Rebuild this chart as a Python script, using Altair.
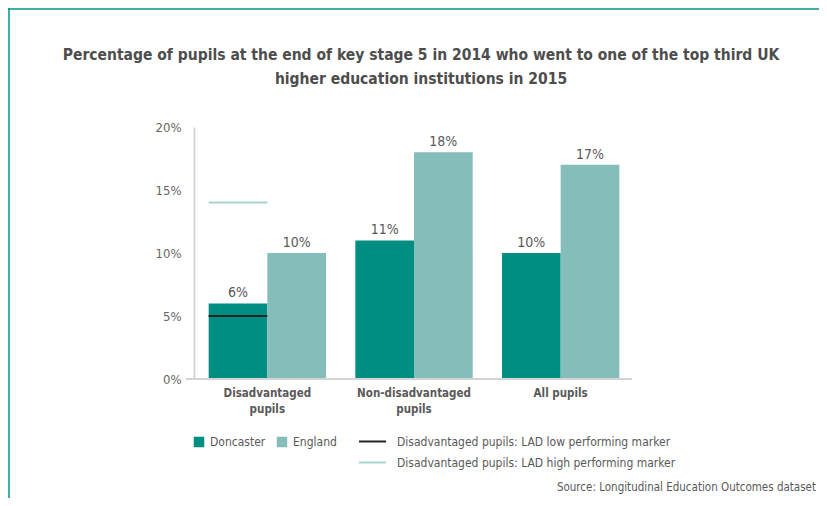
import altair as alt
import pandas as pd

groups = ["Disadvantaged pupils", "Non-disadvantaged pupils", "All pupils"]
series = ["Doncaster", "England"]
doncaster = [6, 11, 10]
england = [10, 18, 17]
marker_names = ["Disadvantaged pupils: LAD low performing marker",
                "Disadvantaged pupils: LAD high performing marker"]
marker_values = [5, 14]
marker_group = "Disadvantaged pupils"
title_lines = ["Percentage of pupils at the end of key stage 5 in 2014 who went to one of the top third UK",
               "higher education institutions in 2015"]
source_text = "Source: Longitudinal Education Outcomes dataset"

FONT = "DejaVu Sans Condensed"
TXT = "#595959"

rows = []
for g, d, e in zip(groups, doncaster, england):
    rows.append({"group": g, "series": "Doncaster", "value": d})
    rows.append({"group": g, "series": "England", "value": e})
bars_df = pd.DataFrame(rows)
markers_df = pd.DataFrame({"group": [marker_group] * 2, "series": ["Doncaster"] * 2,
                           "marker": marker_names, "value": marker_values})

W, H = 440, 252
x_enc = alt.X("group:N", sort=groups, title=None,
              scale=alt.Scale(paddingInner=0.2, paddingOuter=0.1),
              axis=alt.Axis(labelAngle=0, labelFont=FONT, labelFontWeight="bold", labelFontSize=11.5,
                            labelColor=TXT, ticks=False, domain=False, labelPadding=8,
                            labelLineHeight=16,
                            labelExpr="datum.value == 'All pupils' ? 'All pupils' : split(datum.value, ' ')"))
xoff = alt.XOffset("series:N", sort=series, scale=alt.Scale(domain=series, paddingInner=0, paddingOuter=0))
y_enc = alt.Y("value:Q", title=None,
              scale=alt.Scale(domain=[0, 20]),
              axis=alt.Axis(values=[0, 5, 10, 15, 20], labelExpr="datum.value + '%'", grid=False,
                            ticks=False, domainColor="#d4d4d4", domainWidth=2, labelPadding=13,
                            labelFont=FONT, labelFontSize=13, labelColor="#666666"))

bars = alt.Chart(bars_df).mark_bar().encode(
    x=x_enc, xOffset=xoff, y=y_enc,
    color=alt.Color("series:N", sort=series,
                    scale=alt.Scale(domain=series, range=["#008e82", "#84bdba"]),
                    legend=alt.Legend(title=None, orient="none", legendX=-1, legendY=309,
                                      direction="horizontal", symbolType="square", symbolSize=110,
                                      symbolOpacity=1, labelFont=FONT, labelFontSize=12,
                                      labelColor=TXT, labelOffset=5, columnPadding=10))
)

labels = alt.Chart(bars_df).mark_text(baseline="bottom", dy=-3, font=FONT, fontSize=14,
                                      color=TXT).encode(
    x=alt.X("group:N", sort=groups), xOffset=xoff, y="value:Q",
    text=alt.Text("label:N")
).transform_calculate(label="datum.value + '%'")

markers = alt.Chart(markers_df).mark_bar(fillOpacity=0, strokeWidth=2).encode(
    x=alt.X("group:N", sort=groups), xOffset=xoff,
    y="value:Q", y2="value:Q",
    stroke=alt.Stroke("marker:N", sort=marker_names,
                      scale=alt.Scale(domain=marker_names, range=["#222222", "#a6d4d1"]),
                      legend=alt.Legend(title=None, orient="none", legendX=164, legendY=300,
                                        direction="vertical", symbolType="stroke",
                                        symbolSize=729, symbolStrokeWidth=2,
                                        labelFont=FONT, labelFontSize=12, labelColor=TXT,
                                        labelOffset=10, rowPadding=-11, labelLimit=0))
)

one = pd.DataFrame({"t": [0]})
xline = alt.Chart(one).mark_rule(color="#d4d4d4", strokeWidth=2).encode(
    x=alt.value(-8), x2=alt.value(W - 2), y=alt.value(H))
top_border = alt.Chart(one).mark_rule(color="#009688", strokeWidth=1.5).encode(
    x=alt.value(-186), x2=alt.value(W + 185), y=alt.value(-118))
left_border = alt.Chart(one).mark_rule(color="#009688", strokeWidth=1.5).encode(
    x=alt.value(-185), y=alt.value(-119), y2=alt.value(H + 119))
source = alt.Chart(pd.DataFrame({"t": [source_text]})).mark_text(
    align="right", baseline="middle", font=FONT, fontSize=11.5, color=TXT).encode(
    x=alt.value(622), y=alt.value(361), text="t:N")
title = alt.Chart(pd.DataFrame({"t": ["\n".join(title_lines)]})).mark_text(
    align="center", baseline="middle", font=FONT, fontSize=15.5, fontWeight="bold",
    color="#4d4d4d", lineBreak="\n", lineHeight=24).encode(
    x=alt.value(227), y=alt.value(-72), text="t:N")

chart = alt.layer(bars, xline, labels, markers, top_border, left_border, source, title).properties(
    width=W, height=H,
    autosize=alt.AutoSizeParams(type="none"),
    padding={"left": 186, "top": 119, "right": 185, "bottom": 119},
).configure_view(stroke=None)

chart.save("out.html", embed_options={"renderer": "svg", "actions": False})
